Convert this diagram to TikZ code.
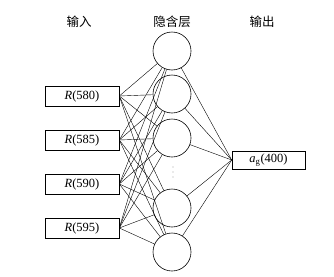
\documentclass[tikz,border=0pt]{standalone}
\usepackage{fontspec}
\setmainfont{Liberation Serif}
\newfontfamily\cjk{Noto Sans CJK SC}
\begin{document}
\begin{tikzpicture}[x=1pt,y=-1pt,
  inbox/.style={draw,line width=0.6pt,minimum width=74pt,minimum height=20pt,inner sep=0pt,font=\fontsize{12.5}{13}\selectfont},
  hid/.style={draw,circle,line width=0.6pt,minimum size=38pt,inner sep=0pt},
  conn/.style={line width=0.4pt},
  dot/.style={circle,fill,inner sep=0pt,minimum size=0.9pt},
  title/.style={font=\cjk\fontsize{12.5}{13}\selectfont}]
\useasboundingbox (0,0) rectangle (334,276);
\node[title] (t1) at (79,22) {输入};
\node[title] (t2) at (172,22) {隐含层};
\node[title] (t3) at (262,22) {输出};
\node[inbox] (i1) at (82,96) {\textit{R}(580)};
\node[inbox] (i2) at (82,140) {\textit{R}(585)};
\node[inbox] (i3) at (82,184) {\textit{R}(590)};
\node[inbox] (i4) at (82,228) {\textit{R}(595)};
\node[hid] (h1) at (172,51) {};
\node[hid] (h2) at (172,94) {};
\node[hid] (h3) at (172,138) {};
\node[hid] (h4) at (172,208) {};
\node[hid] (h5) at (172,252) {};
\node[dot] (d1) at (173,167) {};
\node[dot] (d2) at (173,172) {};
\node[dot] (d3) at (173,177) {};
\node[inbox,minimum width=73pt,minimum height=18pt] (o) at (268.5,160) {\textit{a}\textsubscript{g}(400)};
\foreach \i in {1,...,4}{
  \foreach \h in {1,...,5}{
    \draw[conn] (i\i.east) -- (h\h);
  }
}
\foreach \h in {1,...,5}{
  \draw[conn] (h\h) -- (o.west);
}
\end{tikzpicture}
\end{document}
